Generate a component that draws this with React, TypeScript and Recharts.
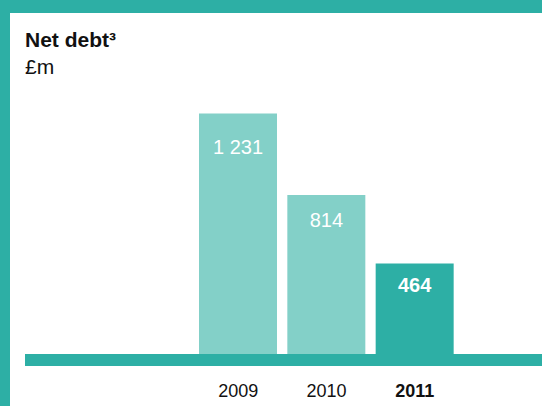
import React from 'react';
import { BarChart, Bar, XAxis, YAxis, Cell, LabelList } from 'recharts';

const years = ['2009', '2010', '2011'];
const netDebt = [1231, 814, 464];
const highlightYear = '2011';

const data = years.map((year, i) => ({ year, value: netDebt[i] }));

const TEAL = '#2DAFA5';
const TEAL_LIGHT = '#83D0C8';
const FONT = '"Liberation Sans", Arial, Helvetica, sans-serif';

const formatValue = (v: number) => String(v).replace(/\B(?=(\d{3})+(?!\d))/g, ' ');

// label baseline distance from top of bar
const labelDy = [40, 32, 29];

const ValueLabel = (props: any) => {
    const { x, y, width, value, index } = props;
    const isHi = years[index] === highlightYear;
    return (
        <text x={x + width / 2} y={y + labelDy[index]} textAnchor="middle" fill="#ffffff"
            style={{ fontFamily: FONT, fontSize: 20, fontWeight: isHi ? 700 : 400 }}>
            {formatValue(value)}
        </text>
    );
};

const YearTick = (props: any) => {
    const { x, y, payload } = props;
    const isHi = payload.value === highlightYear;
    return (
        <text x={x} y={y + 29} textAnchor="middle" fill="#111111"
            style={{ fontFamily: FONT, fontSize: 18, fontWeight: isHi ? 700 : 400 }}>
            {payload.value}
        </text>
    );
};

export default function App() {
    return (
        <div style={{ position: 'absolute', left: 0, top: 0, width: 542, height: 406, background: '#fff', overflow: 'hidden' }}>
            <div style={{ position: 'absolute', left: 0, top: 0, width: 10, height: 406, background: TEAL }} />
            <div style={{ position: 'absolute', left: 0, top: 0, width: 542, height: 13, background: TEAL }} />
            <div style={{ position: 'absolute', left: 25, top: 28, fontFamily: FONT, fontSize: 21, lineHeight: '24px', fontWeight: 700, color: '#111' }}>
                Net debt³
            </div>
            <div style={{ position: 'absolute', left: 25, top: 55, fontFamily: FONT, fontSize: 21, lineHeight: '24px', color: '#111' }}>
                £m
            </div>
            <BarChart width={542} height={406} data={data}
                margin={{ top: 61, right: 0, bottom: 0, left: 25 }}>
                {/* thick axis line doubles as the teal baseline band */}
                <XAxis dataKey="year" tickLine={false} interval={0}
                    axisLine={{ stroke: TEAL, strokeWidth: 12 }}
                    tick={<YearTick />} height={46}
                    padding={{ left: 169, right: 83 }} />
                <YAxis hide domain={[-30, 1500]} allowDataOverflow />
                <Bar dataKey="value" barSize={78} isAnimationActive={false}>
                    {data.map((d) => (
                        <Cell key={d.year} fill={d.year === highlightYear ? TEAL : TEAL_LIGHT} />
                    ))}
                    <LabelList dataKey="value" content={<ValueLabel />} />
                </Bar>
            </BarChart>
        </div>
    );
}
